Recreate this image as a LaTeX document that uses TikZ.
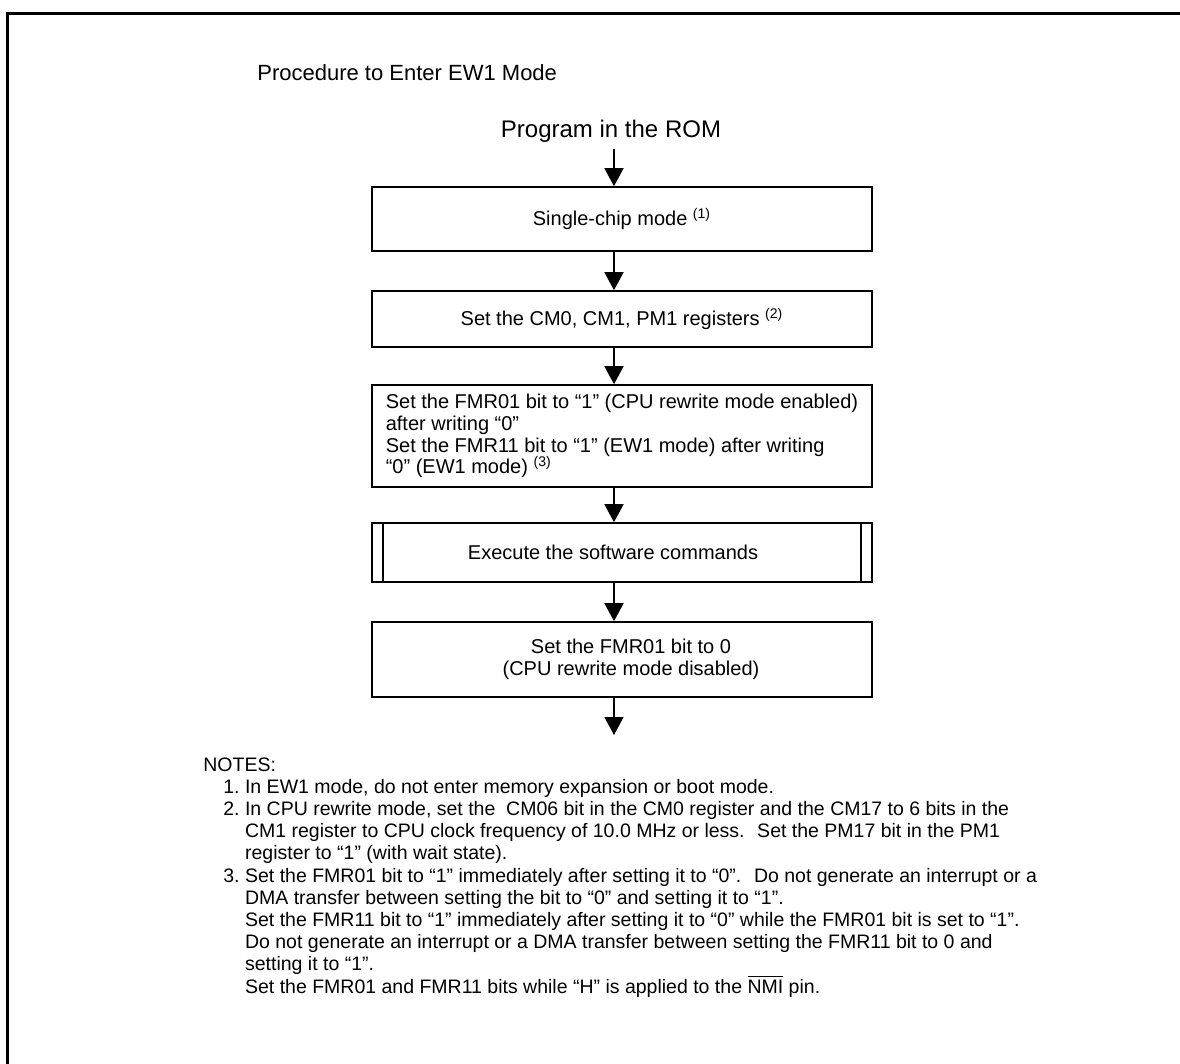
\documentclass[tikz,border=0pt]{standalone}
\usepackage{fontspec}
\setmainfont{Liberation Sans}
\usetikzlibrary{arrows.meta, positioning, calc}
\tikzset{
    procbox/.style={
        rectangle,
        minimum width=250pt,
        align=center,
        draw=black,
        line width=0.8pt,
        font=\fontsize{10}{10.85}\selectfont
    },
    arrow/.style={
        line width=0.8pt,
        -{Triangle[length=9pt,width=9.5pt]}
    }
}
\newcommand{\nnum}[1]{\hspace*{10pt}#1\ }
\newcommand{\ncont}{\hspace*{10pt}\phantom{1.\ }}

\begin{document}
\begin{tikzpicture}[x=0.5pt, y=-0.5pt,
    frame/.style={line width=1.5pt},
    headtext/.style={font=\fontsize{12}{14}\selectfont},
    notetext/.style={font=\fontsize{9.75}{11.1}\selectfont, align=left, anchor=north west, inner sep=0pt}
]
\useasboundingbox (0,0) rectangle (1180,1064);
\draw[frame] (7.5,1064) -- (7.5,13.5) -- (1180,13.5);

\node[headtext, font=\fontsize{11}{13}\selectfont, anchor=west, inner sep=0pt] (title) at (257,73) {Procedure to Enter EW1 Mode};
\node[headtext] (rom) at (611,131) {Program in the ROM};
\coordinate (axis) at (614,0);

% flow steps
\node[procbox, minimum height=32pt] (single) at (622,219) {Single-chip mode \textsuperscript{(1)}};
\node[procbox, minimum height=28pt] (regs) at (622,319) {Set the CM0, CM1, PM1 registers \textsuperscript{(2)}};
\node[procbox, minimum height=51pt, align=left] (fmr) at (622,436)
    {Set the FMR01 bit to “1” (CPU rewrite mode enabled)\\
     after writing “0”\\
     Set the FMR11 bit to “1” (EW1 mode) after writing\\
     “0” (EW1 mode) \textsuperscript{(3)}};
\node[procbox, minimum height=29.5pt] (exec) at (622,552.5) {Execute the software commands\hspace*{9pt}};
\draw[line width=0.8pt] ([xshift=6pt]exec.north west) -- ([xshift=6pt]exec.south west);
\draw[line width=0.8pt] ([xshift=-6pt]exec.north east) -- ([xshift=-6pt]exec.south east);
\node[procbox, minimum height=37.5pt] (off) at (622,659.5) {\hspace*{9pt}Set the FMR01 bit to 0\\\hspace*{9pt}(CPU rewrite mode disabled)};
\coordinate (exit) at (614,735);

\draw[arrow] (rom.south -| axis) -- (single.north -| axis);
\draw[arrow] (single.south -| axis) -- (regs.north -| axis);
\draw[arrow] (regs.south -| axis) -- (fmr.north -| axis);
\draw[arrow] (fmr.south -| axis) -- (exec.north -| axis);
\draw[arrow] (exec.south -| axis) -- (off.north -| axis);
\draw[arrow] (off.south -| axis) -- (exit);

% notes
\node[notetext] (notes) at (203,757) {NOTES:\\
\nnum{1.}In EW1 mode, do not enter memory expansion or boot mode.\\
\nnum{2.}In CPU rewrite mode, set the~ CM06 bit in the CM0 register and the CM17 to 6 bits in the\\
\ncont CM1 register to CPU clock frequency of 10.0 MHz or less.~ Set the PM17 bit in the PM1\\
\ncont register to “1” (with wait state).\\
\nnum{3.}Set the FMR01 bit to “1” immediately after setting it to “0”.~ Do not generate an interrupt or a\\
\ncont DMA transfer between setting the bit to “0” and setting it to “1”.\\
\ncont Set the FMR11 bit to “1” immediately after setting it to “0” while the FMR01 bit is set to “1”.\\
\ncont Do not generate an interrupt or a DMA transfer between setting the FMR11 bit to 0 and\\
\ncont setting it to “1”.\\
\ncont Set the FMR01 and FMR11 bits while “H” is applied to the $\overline{\mbox{NMI}}$ pin.};
\end{tikzpicture}
\end{document}
